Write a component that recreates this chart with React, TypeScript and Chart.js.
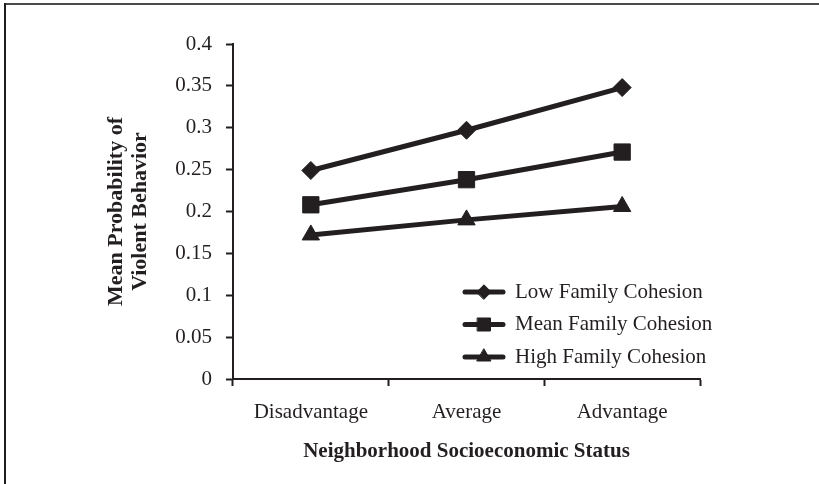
import React, { useEffect, useRef } from 'react';
import { Chart, registerables } from 'chart.js';
import { drawPoint } from 'chart.js/helpers';

Chart.register(...registerables);

const categories = ['Disadvantage', 'Average', 'Advantage'];
const lowCohesion = [0.249, 0.297, 0.348];
const meanCohesion = [0.208, 0.238, 0.271];
const highCohesion = [0.172, 0.19, 0.206];
const seriesLabels = ['Low Family Cohesion', 'Mean Family Cohesion', 'High Family Cohesion'];
const yTitle = ['Mean Probability of', 'Violent Behavior'];
const xTitle = 'Neighborhood Socioeconomic Status';

const INK = '#231f20';
const FONT = "'Liberation Serif', 'Times New Roman', serif";

const borderPlugin = {
  id: 'pageBorder',
  beforeDraw(chart: any) {
    const ctx = chart.ctx;
    ctx.save();
    ctx.fillStyle = '#ffffff';
    ctx.fillRect(0, 0, chart.width, chart.height);
    ctx.fillStyle = '#4a4a4a';
    ctx.fillRect(4, 3, chart.width - 4, 2);
    ctx.fillStyle = '#1e1e1e';
    ctx.fillRect(4, 3, 2, chart.height - 3);
    ctx.restore();
  },
};

const insideLegend = {
  id: 'insideLegend',
  afterDatasetsDraw(chart: any) {
    const ctx = chart.ctx;
    const x0 = 465;
    const x1 = 503;
    const y0 = 292;
    const gap = 32.5;
    ctx.save();
    chart.data.datasets.forEach((ds: any, i: number) => {
      const y = y0 + i * gap;
      ctx.strokeStyle = INK;
      ctx.fillStyle = INK;
      ctx.lineWidth = 5;
      ctx.lineCap = 'round';
      ctx.beginPath();
      ctx.moveTo(x0, y);
      ctx.lineTo(x1, y);
      ctx.stroke();
      ctx.lineWidth = 1;
      drawPoint(ctx, { pointStyle: ds.pointStyle, radius: ds.pointRadius * 0.8, borderWidth: 1, rotation: 0 } as any, (x0 + x1) / 2, y);
      ctx.fillStyle = INK;
      ctx.font = `21px ${FONT}`;
      ctx.textBaseline = 'middle';
      ctx.textAlign = 'left';
      ctx.fillText(ds.label, 515, y);
    });
    ctx.restore();
  },
};

export default function App() {
  const ref = useRef<HTMLCanvasElement | null>(null);
  useEffect(() => {
    if (!ref.current) return;
    const mk = (label: string, data: number[], pointStyle: string, r: number) => ({
      label,
      data,
      borderColor: INK,
      backgroundColor: INK,
      borderWidth: 5,
      pointStyle,
      pointRadius: r,
      pointHoverRadius: r,
      pointBackgroundColor: INK,
      pointBorderColor: INK,
      pointBorderWidth: 1,
      tension: 0,
      fill: false,
    });
    const chart = new Chart(ref.current, {
      type: 'line',
      data: {
        labels: categories,
        datasets: [
          mk(seriesLabels[0], lowCohesion, 'rectRot', 9),
          mk(seriesLabels[1], meanCohesion, 'rect', 11.5),
          mk(seriesLabels[2], highCohesion, 'triangle', 10),
        ],
      },
      options: {
        responsive: false,
        animation: false,
        layout: { padding: { left: 0, top: 44, right: 119, bottom: 0 } },
        plugins: {
          legend: { display: false },
          tooltip: { enabled: false },
        },
        scales: {
          x: {
            type: 'category',
            offset: true,
            afterFit(scale: any) {
              scale.height = 105;
            },
            grid: {
              display: true,
              offset: true,
              drawOnChartArea: false,
              drawTicks: true,
              tickLength: 7,
              tickWidth: 2,
              tickColor: INK,
            },
            border: { display: true, color: INK, width: 2 },
            ticks: {
              color: INK,
              font: { family: FONT, size: 21 },
              padding: 14,
              maxRotation: 0,
            },
            title: {
              display: true,
              text: xTitle,
              color: INK,
              font: { family: FONT, size: 21, weight: 'bold' },
              padding: { top: 0, bottom: 20 },
            },
          },
          y: {
            min: 0,
            max: 0.4,
            afterFit(scale: any) {
              scale.width = 233;
            },
            grid: {
              display: true,
              drawOnChartArea: false,
              drawTicks: true,
              tickLength: 7,
              tickWidth: 2,
              tickColor: INK,
            },
            border: { display: true, color: INK, width: 2 },
            ticks: {
              stepSize: 0.05,
              color: INK,
              font: { family: FONT, size: 21 },
              padding: 14,
              callback: (v: any) => String(Number(Number(v).toFixed(2))),
            },
            title: {
              display: true,
              text: yTitle,
              color: INK,
              font: { family: FONT, size: 22, weight: 'bold', lineHeight: '24px' },
              padding: { top: 104, bottom: 0 },
            },
          },
        },
      },
      plugins: [borderPlugin, insideLegend],
    } as any);
    return () => chart.destroy();
  }, []);
  return (
    <div style={{ position: 'absolute', left: 0, top: 0, width: 819, height: 484 }}>
      <canvas ref={ref} width={819} height={484} style={{ display: 'block' }} />
    </div>
  );
}
